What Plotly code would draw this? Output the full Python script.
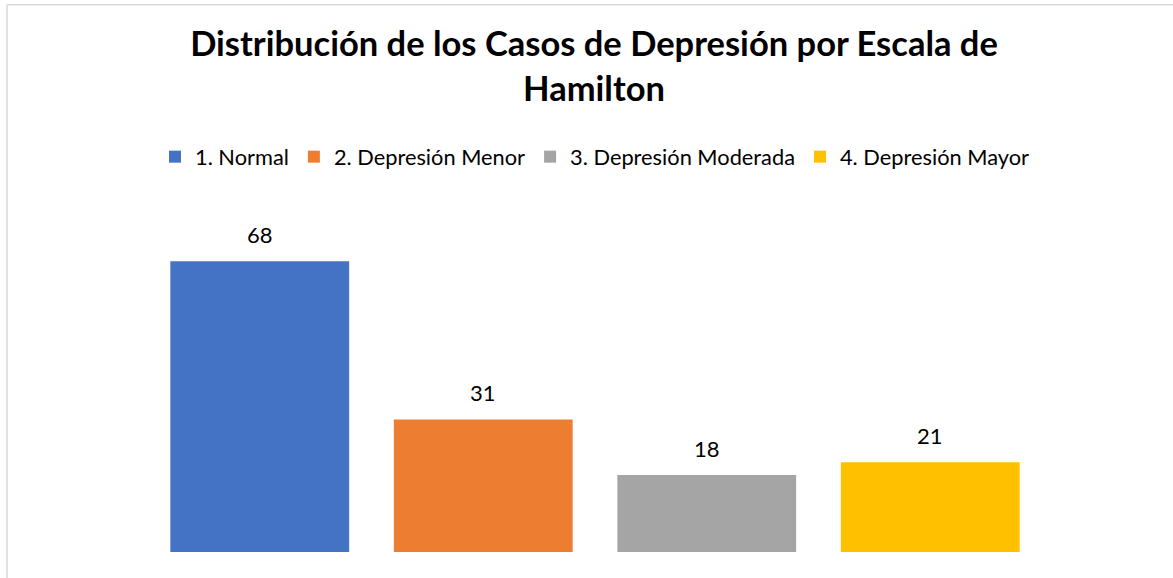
import plotly.graph_objects as go

categories = ["1. Normal", "2. Depresión Menor", "3. Depresión Moderada", "4. Depresión Mayor"]
values = [68, 31, 18, 21]
colors = ["#4472C4", "#ED7D31", "#A5A5A5", "#FFC000"]
title_text = "Distribución de los Casos de Depresión por Escala de<br>Hamilton"

W, H = 1173, 578
FONT = "Lato"

fig = go.Figure()
for cat, val, col in zip(categories, values, colors):
    fig.add_trace(go.Bar(x=[cat], y=[val], name=cat, marker=dict(color=col, line=dict(width=0)),
                         showlegend=True))
    fig.add_annotation(x=cat, y=val, text=str(val), showarrow=False, yanchor="bottom", yshift=11,
                       font=dict(family=FONT, size=22, color="#000000"))

ml, mr, mt, mb = 147.6, 130.6, 209.6, 26
pw = W - ml - mr
ph = H - mt - mb

def px_to_paper_x(px):
    return (px - ml) / pw

def py_to_paper_y(py):
    return (H - mb - py) / ph

# chart-area border (left and top edges visible)
fig.add_shape(type="line", xref="paper", yref="paper",
              x0=px_to_paper_x(6.5), x1=px_to_paper_x(1200), y0=py_to_paper_y(4), y1=py_to_paper_y(4),
              line=dict(color="#D9D9D9", width=1.5))
fig.add_shape(type="line", xref="paper", yref="paper",
              x0=px_to_paper_x(6.5), x1=px_to_paper_x(6.5), y0=py_to_paper_y(4), y1=py_to_paper_y(600),
              line=dict(color="#D9D9D9", width=1.5))

fig.update_layout(
    width=W, height=H, autosize=False,
    margin=dict(l=ml, r=mr, t=mt, b=mb, pad=0),
    paper_bgcolor="white", plot_bgcolor="white",
    barmode="overlay", bargap=0.2,
    title=dict(text=title_text, x=594 / W, xref="container", xanchor="center",
               y=1 - 56 / H, yref="container", yanchor="top",
               font=dict(family=FONT, size=34.5, color="#000000", weight="bold")),
    legend=dict(orientation="h", x=0.5, xanchor="center", xref="paper",
                y=1 - 157 / H, yanchor="middle", yref="container",
                font=dict(family=FONT, size=21.8, color="#000000"),
                itemclick=False, itemdoubleclick=False, traceorder="normal"),
    xaxis=dict(visible=False, type="category", categoryorder="array", categoryarray=categories),
    yaxis=dict(visible=False, range=[0, 80]),
    font=dict(family=FONT),
)

fig.write_html("out.html")
